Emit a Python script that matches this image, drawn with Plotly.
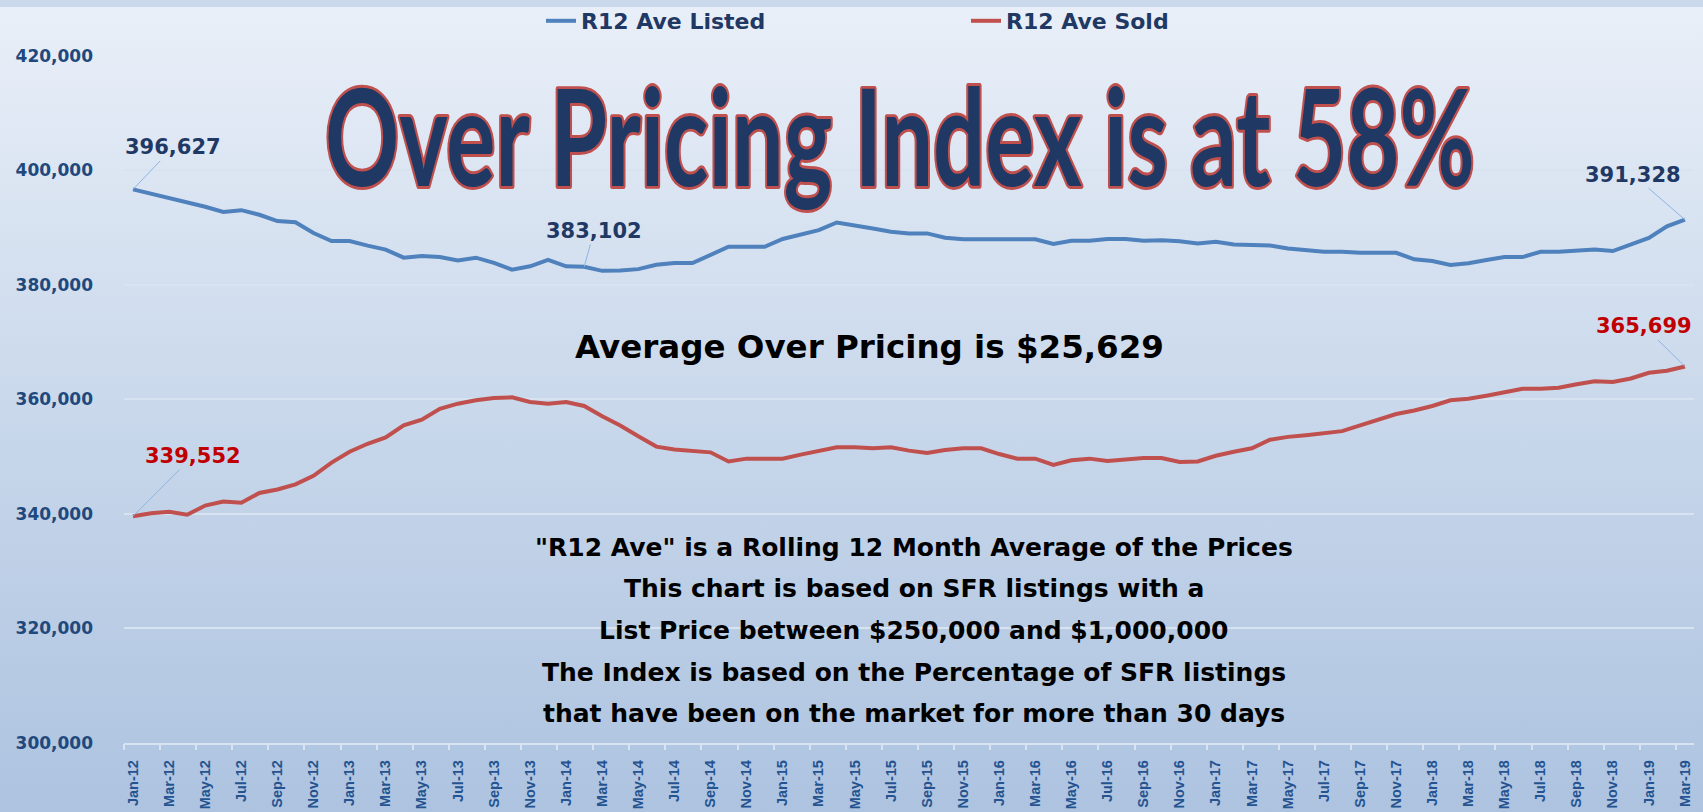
import plotly.graph_objects as go

# month labels Jan-12 .. Mar-19
month_abbr = ["Jan", "Feb", "Mar", "Apr", "May", "Jun",
              "Jul", "Aug", "Sep", "Oct", "Nov", "Dec"]
months = [f"{m}-{y}" for y in range(12, 20) for m in month_abbr][:87]

r12_listed = [
    396627, 395900, 395200, 394500, 393600, 392700, 393000, 392200, 391100, 390900,
    389000, 387600, 387600, 386800, 386100, 384700, 385000, 384800, 384200, 384700,
    383800, 382600, 383200, 384300, 383200, 383102, 382400, 382450, 382700, 383460,
    383750, 383750, 385200, 386600, 386600, 386600, 387960, 388770, 389500, 390840,
    390380, 389800, 389230, 388940, 388940, 388190, 387900, 387900, 387900, 387900,
    387900, 387090, 387670, 387670, 387960, 387960, 387670, 387750, 387580, 387180,
    387470, 387000, 387000, 386830, 386310, 386020, 385740, 385740, 385560, 385560,
    385560, 384410, 384120, 383430, 383720, 384290, 384810, 384810, 385740, 385740,
    385970, 386140, 385860, 387000, 388160, 390180, 391328,
]

r12_sold = [
    339552, 340060, 340300, 339800, 341400, 342100, 341900, 343600, 344200, 345100,
    346600, 348900, 350800, 352200, 353300, 355400, 356400, 358300, 359200, 359800,
    360200, 360300, 359500, 359200, 359500, 358800, 357000, 355400, 353500, 351700,
    351200, 350900, 350700, 349100, 349600, 349600, 349600, 350300, 350900, 351600,
    351600, 351400, 351600, 351000, 350600, 351100, 351400, 351400, 350400, 349600,
    349600, 348500, 349300, 349600, 349200, 349500, 349700, 349700, 349000, 349100,
    350100, 350800, 351400, 352900, 353400, 353700, 354100, 354400, 355400, 356400,
    357400, 358000, 358800, 359800, 360050, 360600, 361200, 361800, 361800, 362000,
    362600, 363100, 363000, 363600, 364600, 364950, 365699,
]

title_text = "Over Pricing Index is at 58%"
avg_text = "Average Over Pricing is $25,629"
notes = [
    '"R12 Ave" is a Rolling 12 Month Average of the Prices',
    "This chart is based on SFR listings with a",
    "List Price between $250,000 and $1,000,000",
    "The Index is based on the Percentage of SFR listings",
    "that have been on the market for more than 30 days",
]

BLUE = "#4f81bd"
RED = "#c0504d"
NAVY = "#1f3864"
GRID = "#d8e3f1"
W, H = 1703, 812

x = list(range(len(months)))

fig = go.Figure()

# gradient background on a hidden full-page subplot
fig.add_trace(go.Scatter(
    x=[0, 1, 1, 0], y=[0, 0, 1, 1], fill="toself", mode="lines",
    line=dict(width=0),
    fillgradient=dict(type="vertical", start=0, stop=1,
                      colorscale=[[0, "#adc3e0"], [0.5, "#c9d8eb"], [1, "#e9eff8"]]),
    hoverinfo="skip", showlegend=False, xaxis="x", yaxis="y",
))

fig.add_trace(go.Scatter(
    x=x, y=r12_listed, name="R12 Ave Listed", mode="lines",
    line=dict(color=BLUE, width=4), customdata=months,
    hovertemplate="%{customdata}<br>%{y:,}<extra>Listed</extra>",
    xaxis="x2", yaxis="y2",
))
fig.add_trace(go.Scatter(
    x=x, y=r12_sold, name="R12 Ave Sold", mode="lines",
    line=dict(color=RED, width=4), customdata=months,
    hovertemplate="%{customdata}<br>%{y:,}<extra>Sold</extra>",
    xaxis="x2", yaxis="y2",
))

annotations = []

# value callouts with leader lines
callouts = [
    (0, r12_listed, NAVY, 40, -42),
    (25, r12_listed, NAVY, 10, -36),
    (86, r12_listed, NAVY, -52, -45),
    (0, r12_sold, "#c00000", 60, -60),
    (86, r12_sold, "#c00000", -41, -40),
]
for i, series, col, ax, ay in callouts:
    annotations.append(dict(
        x=i, y=series[i], xref="x2", yref="y2", text=f"{series[i]:,}",
        showarrow=True, arrowhead=0, arrowwidth=1, arrowcolor="#8eb4e3",
        ax=ax, ay=ay, standoff=0,
        font=dict(family="DejaVu Sans", size=21, color=col, weight="bold"),
    ))

annotations.append(dict(
    x=900 / W, y=1 - 212 / H, xref="paper", yref="paper",
    xanchor="center", yanchor="bottom", showarrow=False, text=title_text,
    font=dict(family="Lato", size=92, color=NAVY, weight="bold"),
))
annotations.append(dict(
    x=869 / W, y=1 - 343 / H, xref="paper", yref="paper",
    xanchor="center", yanchor="middle", showarrow=False, text=avg_text,
    font=dict(family="DejaVu Sans", size=32.5, color="black", weight="bold"),
))
for k, line in enumerate(notes):
    annotations.append(dict(
        x=914 / W, y=1 - (545 + 42 * k) / H, xref="paper", yref="paper",
        xanchor="center", yanchor="middle", showarrow=False, text=line,
        font=dict(family="DejaVu Sans", size=25, color="black", weight="bold"),
    ))

fig.update_layout(
    template="none",
    width=W, height=H, autosize=False,
    margin=dict(l=0, r=0, t=0, b=0, pad=0),
    paper_bgcolor="#c9d8eb",
    plot_bgcolor="rgba(0,0,0,0)",
    xaxis=dict(domain=[0, 1], range=[0, 1], visible=False, fixedrange=True,
               automargin=False),
    yaxis=dict(domain=[0, 1], range=[0, 1], visible=False, fixedrange=True,
               automargin=False),
    xaxis2=dict(
        domain=[124 / W, 1694 / W], anchor="y2", range=[-0.5, 86.5],
        automargin=False,
        tickmode="array", tickvals=x[::2], ticktext=months[::2], tickangle=-90,
        ticks="", ticklabelstandoff=10,
        tickfont=dict(family="Liberation Sans", size=14.5, color="#24538f", weight="bold"),
        showgrid=False, zeroline=False, showline=True, linecolor=GRID, linewidth=1.5,
        minor=dict(tickmode="array", tickvals=[v - 0.5 for v in x[::2]],
                   ticks="outside", ticklen=6, tickwidth=1.5, tickcolor=GRID,
                   showgrid=False),
        fixedrange=True,
    ),
    yaxis2=dict(
        domain=[70 / H, 763 / H], anchor="x2", range=[300000, 420000],
        automargin=False,
        tick0=300000, dtick=20000, tickformat=",d", ticks="",
        ticklabelstandoff=30,
        tickfont=dict(family="DejaVu Sans", size=17, color="#1f497d", weight="bold"),
        showgrid=True, gridcolor=GRID, gridwidth=1.5, zeroline=False, showline=False,
        fixedrange=True,
    ),
    legend=dict(
        orientation="h", x=541 / W, y=1 - 14 / H, xanchor="left", yanchor="middle",
        bgcolor="rgba(0,0,0,0)", entrywidth=380, entrywidthmode="pixels",
        font=dict(family="DejaVu Sans", size=22, color=NAVY, weight="bold"),
    ),
    annotations=annotations,
)

post_js = """
document.body.style.margin = '0';
document.querySelectorAll('.annotation-text').forEach(function (t) {
  if (t.textContent.indexOf('Over Pricing Index') === 0) {
    t.style.stroke = '#c0504d';
    t.style.strokeWidth = '4px';
    t.style.strokeLinejoin = 'round';
    t.style.paintOrder = 'stroke';
    t.style.transformBox = 'fill-box';
    t.style.transformOrigin = '50% 100%';
    t.style.transform = 'scaleY(1.45)';
  }
});
"""

fig.write_html("out.html", config={"displayModeBar": False}, post_script=post_js)
